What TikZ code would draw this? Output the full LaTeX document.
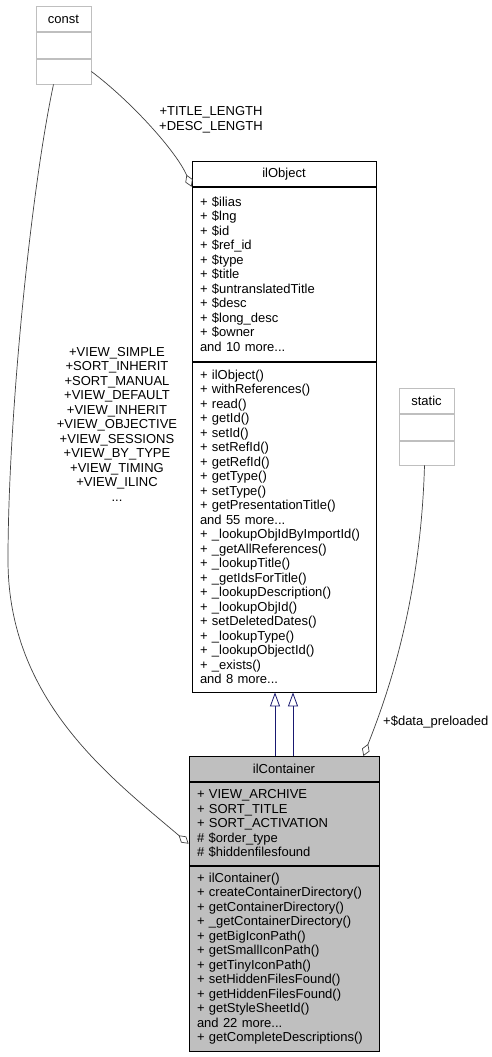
\documentclass[tikz,border=0pt]{standalone}
\usepackage{fontspec}
\setmainfont{Liberation Sans}
\usetikzlibrary{arrows.meta,positioning}

\definecolor{inhblue}{RGB}{25,25,112}

\begin{document}
\begin{tikzpicture}[
  x=1pt, y=-1pt,
  font=\fontsize{13}{14.5}\selectfont,
  head/.style={draw, line width=0.8pt, minimum width=#1, minimum height=25pt, inner sep=0pt, align=center},
  body/.style={draw, line width=0.8pt, inner xsep=8pt, inner ysep=1pt, text width=#1, align=left},
  faint/.style={draw=gray!50},
  edgelabel/.style={align=center, inner sep=0pt},
  aggr/.style={-{Diamond[open, length=13pt, width=8pt]}, line width=0.7pt, draw=black!75},
  inherit/.style={-{Triangle[open, length=14pt, width=10pt]}, line width=0.8pt, draw=inhblue}
]
\useasboundingbox (0,0) rectangle (492,1057);

% classes
\node[head=55pt, faint, anchor=north] (constt) at (63.5,6) {const};
\node[body=39pt, faint, minimum height=26pt, below=0pt of constt] (consta) {};
\node[body=39pt, faint, minimum height=25pt, below=0pt of consta] (constm) {};

\node[head=184pt, anchor=north] (objt) at (284,161) {ilObject};
\node[body=168pt, minimum height=174pt, below=0pt of objt] (obja)
  {+ \$ilias\\+ \$lng\\+ \$id\\+ \$ref\_id\\+ \$type\\+ \$title\\+ \$untranslatedTitle\\+ \$desc\\+ \$long\_desc\\+ \$owner\\and 10 more...};
\node[body=168pt, minimum height=330pt, below=0pt of obja] (objm)
  {+ ilObject()\\+ withReferences()\\+ read()\\+ getId()\\+ setId()\\+ setRefId()\\+ getRefId()\\+ getType()\\+ setType()\\+ getPresentationTitle()\\and 55 more...\\+ \_lookupObjIdByImportId()\\+ \_getAllReferences()\\+ \_lookupTitle()\\+ \_getIdsForTitle()\\+ \_lookupDescription()\\+ \_lookupObjId()\\+ setDeletedDates()\\+ \_lookupType()\\+ \_lookupObjectId()\\+ \_exists()\\and 8 more...};

\node[head=55pt, faint, anchor=north] (statt) at (426.5,388) {static};
\node[body=39pt, faint, minimum height=26pt, below=0pt of statt] (stata) {};
\node[body=39pt, faint, minimum height=24pt, below=0pt of stata] (statm) {};

\node[head=190pt, fill=gray!50, anchor=north] (contt) at (284,756) {ilContainer};
\node[body=174pt, fill=gray!50, minimum height=83pt, below=0pt of contt] (conta)
  {+ VIEW\_ARCHIVE\\+ SORT\_TITLE\\+ SORT\_ACTIVATION\\\# \$order\_type\\\# \$hiddenfilesfound};
\node[body=174pt, fill=gray!50, minimum height=185pt, below=0pt of conta] (contm)
  {+ ilContainer()\\+ createContainerDirectory()\\+ getContainerDirectory()\\+ \_getContainerDirectory()\\+ getBigIconPath()\\+ getSmallIconPath()\\+ getTinyIconPath()\\+ setHiddenFilesFound()\\+ getHiddenFilesFound()\\+ getStyleSheetId()\\and 22 more...\\+ getCompleteDescriptions()};

% connectors
\draw[inherit] ([xshift=-9pt]contt.north) -- ([xshift=-9pt]objm.south);
\draw[inherit] ([xshift=9pt]contt.north) -- ([xshift=9pt]objm.south);

\draw[aggr] (constm.east) .. controls +(40,30) and +(-15,-35) .. (objt.south west);
\node[edgelabel] (lbllen) at (211,120) {+TITLE\_LENGTH\\+DESC\_LENGTH};

\coordinate (viewbend) at (8,560);
\draw[aggr] ([xshift=-10pt]constm.south) .. controls +(-23,108) and +(0,-140) .. (viewbend)
  .. controls +(0,140) and +(-79,-67) .. ([yshift=-20pt]conta.west);
\node[edgelabel] (lblview) at (117,424)
  {+VIEW\_SIMPLE\\+SORT\_INHERIT\\+SORT\_MANUAL\\+VIEW\_DEFAULT\\+VIEW\_INHERIT\\+VIEW\_OBJECTIVE\\+VIEW\_SESSIONS\\+VIEW\_BY\_TYPE\\+VIEW\_TIMING\\+VIEW\_ILINC\\...};

\draw[aggr] ([xshift=-2pt]statm.south) .. controls +(-4,140) and +(22,-56) .. ([xshift=-16pt]contt.north east);
\node[edgelabel, anchor=west] (lblpre) at (383,722) {+\$data\_preloaded};

\end{tikzpicture}
\end{document}
